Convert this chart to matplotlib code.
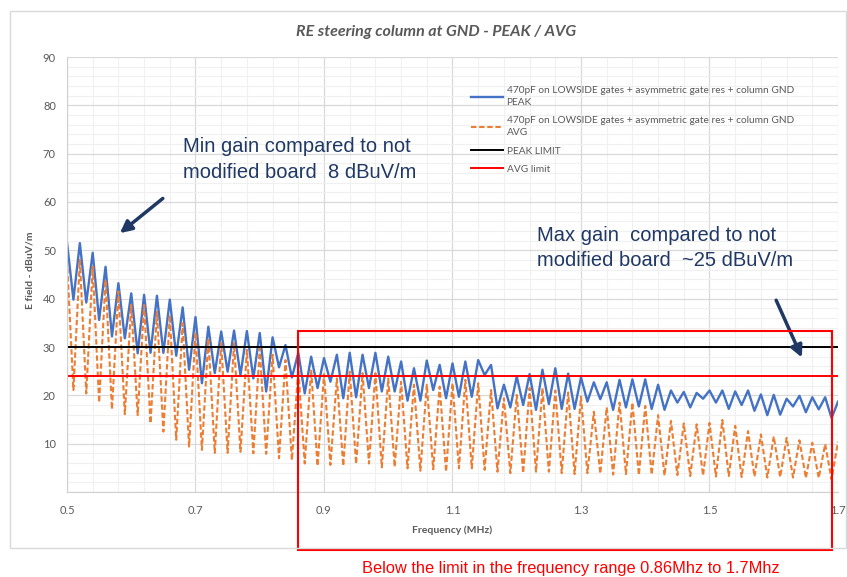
import numpy as np
import matplotlib
matplotlib.use('Agg')
import matplotlib.pyplot as plt
from matplotlib.lines import Line2D
from matplotlib.patches import Rectangle

# Peak detector: maxima and minima of each ripple (dBuV/m)
peak_max = [51.6, 51.5, 49.5, 46.6, 43.2, 41.1, 40.8, 40.6, 39.8, 38.2,
            36.2, 34.2, 33.2, 33.4, 33.3, 32.9, 32.0, 30.4, 28.8, 28.0,
            27.7, 28.4, 28.8, 28.4, 28.8, 28.0, 27.0, 25.6, 27.2, 26.3,
            26.6, 27.0, 27.3, 26.3, 22.2, 23.9, 24.4, 25.3, 25.6, 24.5,
            23.7, 22.7, 22.7, 23.2, 23.3, 23.3, 22.2, 21.0, 20.7, 20.5,
            21.0, 21.0, 20.8, 21.0, 20.2, 20.1, 19.3, 19.9, 19.6, 19.6,
            18.7]
peak_min = [39.8, 39.2, 35.6, 32.2, 31.8, 28.7, 28.8, 28.8, 28.2, 25.3,
            22.5, 24.6, 24.9, 24.2, 23.5, 20.8, 25.8, 23.7, 20.4, 21.5,
            22.8, 19.4, 19.6, 21.5, 20.8, 20.8, 18.9, 18.9, 21.1, 19.4,
            19.7, 19.7, 24.2, 17.3, 17.5, 18.0, 17.0, 18.2, 17.2, 17.2,
            18.7, 19.2, 17.0, 17.5, 17.7, 17.2, 17.0, 18.5, 17.5, 19.3,
            18.5, 17.2, 18.0, 16.8, 15.9, 16.0, 17.7, 16.5, 17.1, 15.3]

# Average detector
avg_max = [48.0, 48.0, 46.6, 43.9, 41.5, 38.7, 38.7, 37.3, 36.6, 34.9,
           33.0, 31.8, 30.8, 30.8, 29.4, 29.7, 28.4, 27.3, 25.3, 25.3,
           24.4, 23.5, 24.9, 24.6, 24.6, 23.5, 22.8, 22.2, 22.2, 21.8,
           22.5, 23.2, 22.5, 21.1, 19.4, 20.1, 21.5, 21.5, 21.0, 20.6,
           19.7, 16.6, 17.5, 18.5, 18.5, 17.8, 15.9, 14.7, 14.2, 14.0,
           14.3, 14.9, 13.7, 12.6, 11.9, 11.5, 11.2, 10.7, 10.2, 9.9,
           10.4]
avg_min = [21.1, 20.4, 18.5, 17.1, 16.1, 15.9, 14.2, 12.5, 10.8, 9.4,
           8.7, 8.1, 8.1, 8.3, 8.0, 7.9, 7.0, 6.6, 5.9, 5.4,
           5.6, 5.4, 5.8, 5.9, 5.1, 5.2, 4.9, 4.4, 4.7, 4.2,
           4.9, 4.9, 4.6, 4.2, 3.9, 3.9, 4.2, 4.2, 3.9, 3.7,
           3.9, 3.8, 3.6, 3.7, 3.5, 3.6, 3.4, 3.5, 3.3, 3.4,
           3.2, 3.3, 3.1, 3.2, 3.0, 3.1, 3.0, 2.9, 2.9, 2.6]

peak_limit = 30
avg_limit = 24
range_start = 0.86
range_stop = 1.69

# ripple period is 20 kHz, maxima on the even grid, minima in between
f_max = np.linspace(0.5, 1.7, len(peak_max))
f_min = f_max[:-1] + 0.01


def interleave(hi, lo):
    out = np.empty(len(hi) + len(lo))
    out[0::2] = hi
    out[1::2] = lo
    return out


freq = interleave(f_max, f_min)
peak = interleave(peak_max, peak_min)
avg = interleave(avg_max, avg_min)

plt.rcParams['font.family'] = ['Lato', 'DejaVu Sans']
grey = '#595959'
navy = '#1f3864'

fig = plt.figure(figsize=(8.47, 5.77), dpi=100)
ax = fig.add_axes([67 / 847, 1 - 492 / 577, 771 / 847, 435 / 577])

# outer chart frame
fig.patches.append(Rectangle((10 / 847, 1 - 548 / 577), 836 / 847, 537 / 577,
                             transform=fig.transFigure, fill=False,
                             edgecolor='#d9d9d9', linewidth=1))

ax.plot(freq, peak, color='#4472c4', lw=1.7, solid_joinstyle='round')
ax.plot(freq, avg, color='#ed7d31', lw=1.5, linestyle=(0, (2.6, 1.3)))
ax.axhline(peak_limit, color='black', lw=1.4)
ax.axhline(avg_limit, color='red', lw=1.4)

ax.set_xlim(0.5, 1.7)
ax.set_ylim(0, 90)
ax.set_xticks(np.arange(0.5, 1.71, 0.2))
ax.set_xticks(np.arange(0.5, 1.71, 0.04), minor=True)
ax.set_yticks(np.arange(0, 91, 10))
ax.set_yticks(np.arange(0, 91, 2), minor=True)
ax.set_xticklabels([f'{v:.1f}' for v in np.arange(0.5, 1.71, 0.2)])
ax.set_yticklabels([''] + [str(v) for v in range(10, 91, 10)])
ax.tick_params(which='both', length=0, colors=grey, labelsize=8)
ax.tick_params(axis='x', pad=9)
ax.tick_params(axis='y', pad=8)
ax.grid(which='major', color='#d9d9d9', lw=0.9)
ax.grid(which='minor', color='#f0f0f0', lw=0.8)
ax.set_axisbelow(True)
for side in ['top', 'right']:
    ax.spines[side].set_visible(False)
for side in ['left', 'bottom']:
    ax.spines[side].set_color('#d0d0d0')

ax.set_xlabel('Frequency (MHz)', fontsize=7.5, fontweight='bold', color=grey)
ax.xaxis.set_label_coords(0.499, -0.076)
ax.set_ylabel('E field - dBuV/m', fontsize=7.5, fontweight='bold', color=grey)
ax.yaxis.set_label_coords(-0.042, 0.51)

fig.text(436 / 847, 1 - 32 / 577, 'RE steering column at GND - PEAK / AVG',
         ha='center', va='center', fontsize=11.5, fontweight='bold',
         fontstyle='italic', color=grey)

series_name = '470pF on LOWSIDE gates + asymmetric gate res + column GND'
handles = [
    Line2D([], [], color='#4472c4', lw=1.7),
    Line2D([], [], color='#ed7d31', lw=1.5, linestyle=(0, (2.6, 1.3))),
    Line2D([], [], color='black', lw=1.4),
    Line2D([], [], color='red', lw=1.4),
]
labels = [series_name + '\nPEAK', series_name + '\nAVG', 'PEAK LIMIT', 'AVG limit']
leg = ax.legend(handles, labels, loc='upper left',
                bbox_to_anchor=((466 - 67) / 771, (492 - 81) / 435),
                frameon=False, fontsize=7.3, borderpad=0, handlelength=3.1,
                handletextpad=0.4, labelspacing=0.9)
for t in leg.get_texts():
    t.set_color(grey)
    t.set_linespacing(1.45)

# comments on the plot
ax.text(0.68, 68.8, 'Min gain compared to not\nmodified board  8 dBuV/m',
        family='Liberation Sans', fontsize=14.5, color=navy, va='center',
        linespacing=1.5)
ax.annotate('', xy=(0.579, 53.2), xytext=(0.6525, 61.1),
            arrowprops=dict(arrowstyle='-|>,head_length=0.7,head_width=0.35',
                            color=navy, lw=2.5))
ax.text(1.2315, 50.5, 'Max gain  compared to not\nmodified board  ~25 dBuV/m',
        family='Liberation Sans', fontsize=14.5, color=navy, va='center',
        linespacing=1.4)
ax.annotate('', xy=(1.6455, 27.3), xytext=(1.602, 40.2),
            arrowprops=dict(arrowstyle='-|>,head_length=0.7,head_width=0.35',
                            color=navy, lw=2.5))

# frequency band where both detectors stay under the limits
ax.add_patch(Rectangle((range_start, -12.0), range_stop - range_start, 45.3,
                       fill=False, edgecolor='red', lw=1.5, clip_on=False,
                       zorder=5))
fig.text(571 / 847, 1 - 568 / 577,
         'Below the limit in the frequency range 0.86Mhz to 1.7Mhz',
         family='Liberation Sans', ha='center', va='center', fontsize=11.8,
         color='red')

fig.savefig('out.png', dpi=100)
